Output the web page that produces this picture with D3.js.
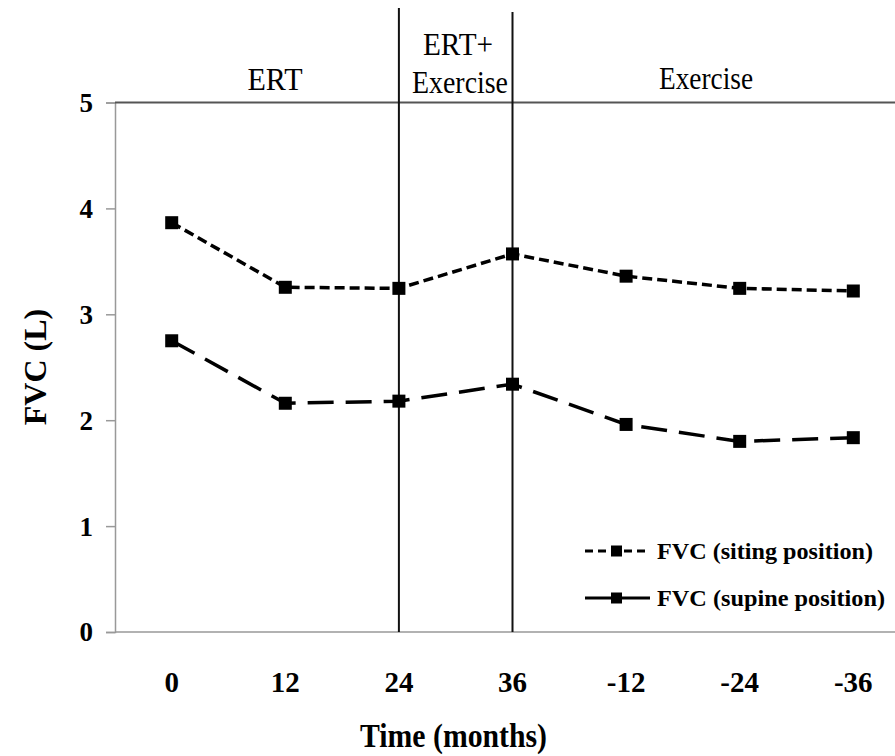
<!DOCTYPE html>
<html>
<head>
<meta charset="utf-8">
<script src="https://cdn.jsdelivr.net/npm/d3@7"></script>
<style>
  body { margin: 0; background: #fff; }
  svg text { font-family: 'Liberation Serif', 'Times New Roman', Times, 'DejaVu Serif', serif !important; }
</style>
</head>
<body>
<div id="chart"></div>
<script>
const categories = ['0', '12', '24', '36', '-12', '-24', '-36'];
const sitting = [3.865, 3.255, 3.245, 3.57, 3.36, 3.245, 3.22];
const supine = [2.75, 2.16, 2.18, 2.34, 1.96, 1.80, 1.835];
const yTicks = [0, 1, 2, 3, 4, 5];
const phaseLabels = [['ERT'], ['ERT+', 'Exercise'], ['Exercise']];
const dividers = ['24', '36'];

const W = 895, H = 756;

const svg = d3.select('#chart').append('svg')
  .attr('width', W)
  .attr('height', H);

const x = d3.scalePoint().domain(categories).range([171.7, 853.3]);
const y = d3.scaleLinear().domain([0, 5]).range([632, 102.5]);
const x0 = 115;

// y axis
const yAxis = svg.append('g')
  .attr('transform', `translate(${x0},0)`)
  .call(d3.axisLeft(y).tickValues(yTicks).tickFormat(d3.format('d')).tickSize(9).tickPadding(13));
yAxis.attr('font-family', null);
yAxis.select('.domain').attr('stroke', '#999').attr('stroke-width', 1.5);
yAxis.selectAll('.tick line').attr('stroke', '#999').attr('stroke-width', 1.5);
yAxis.selectAll('.tick text')
  .attr('font-size', 27).attr('font-weight', 'bold')
  .attr('dy', '0.33em');

// x axis line (gray) and top line (dark)
svg.append('line')
  .attr('x1', x0).attr('x2', W)
  .attr('y1', y(0)).attr('y2', y(0))
  .attr('stroke', '#999').attr('stroke-width', 1.5);
svg.append('line')
  .attr('x1', x0).attr('x2', W)
  .attr('y1', y(5)).attr('y2', y(5))
  .attr('stroke', '#555').attr('stroke-width', 2);

// x tick labels
svg.append('g').selectAll('text')
  .data(categories)
  .join('text')
  .attr('x', d => x(d))
  .attr('y', 692)
  .attr('text-anchor', 'middle')
  .attr('font-size', 29)
  .attr('font-weight', 'bold')
  .text(d => d);

// phase dividers
svg.append('g').selectAll('line')
  .data(dividers)
  .join('line')
  .attr('x1', d => x(d)).attr('x2', d => x(d))
  .attr('y1', (d, i) => i === 0 ? 8 : 12)
  .attr('y2', y(0))
  .attr('stroke', '#111').attr('stroke-width', 2);

// phase labels: [x, baseline, width] per line
const phasePos = [
  [[275, 90, 55]],
  [[458, 55, 70], [460, 93, 96]],
  [[706, 89, 94]]
];
phaseLabels.forEach((lines, i) => {
  lines.forEach((ln, j) => {
    const [px, py, pw] = phasePos[i][j];
    svg.append('text')
      .attr('x', px - pw / 2)
      .attr('y', py)
      .attr('font-size', 32)
      .attr('textLength', pw)
      .attr('lengthAdjust', 'spacingAndGlyphs')
      .text(ln);
  });
});

// series
const line = d3.line()
  .x((d, i) => x(categories[i]))
  .y(d => y(d));

const series = [
  { name: 'FVC (siting position)', values: sitting, dash: '10,5', legendDash: '8,5', textW: 216 },
  { name: 'FVC (supine position)', values: supine, dash: '26,12', legendDash: null, textW: 228 }
];

series.forEach(s => {
  svg.append('path')
    .datum(s.values)
    .attr('fill', 'none')
    .attr('stroke', '#000')
    .attr('stroke-width', 3.5)
    .attr('stroke-dasharray', s.dash)
    .attr('d', line);
  svg.append('g').selectAll('rect')
    .data(s.values)
    .join('rect')
    .attr('x', (d, i) => x(categories[i]) - 6.5)
    .attr('y', d => y(d) - 6.5)
    .attr('width', 13)
    .attr('height', 13)
    .attr('fill', '#000');
});

// legend
const legend = svg.append('g');
series.forEach((s, i) => {
  const ly = 551 + i * 47;
  legend.append('line')
    .attr('x1', 585).attr('x2', 650)
    .attr('y1', ly).attr('y2', ly)
    .attr('stroke', '#000').attr('stroke-width', 3)
    .attr('stroke-dasharray', s.legendDash);
  legend.append('rect')
    .attr('x', 611).attr('y', ly - 5.5)
    .attr('width', 11).attr('height', 11)
    .attr('fill', '#000');
  legend.append('text')
    .attr('x', 657).attr('y', ly + 8)
    .attr('font-size', 24)
    .attr('font-weight', 'bold')
    .attr('textLength', s.textW)
    .attr('lengthAdjust', 'spacingAndGlyphs')
    .text(s.name);
});

// axis titles
svg.append('text')
  .attr('x', 360).attr('y', 747)
  .attr('font-size', 33)
  .attr('font-weight', 'bold')
  .attr('textLength', 187)
  .attr('lengthAdjust', 'spacingAndGlyphs')
  .text('Time (months)');

svg.append('text')
  .attr('transform', 'translate(46,367) rotate(-90)')
  .attr('text-anchor', 'middle')
  .attr('font-size', 32)
  .attr('font-weight', 'bold')
  .text('FVC (L)');
</script>
</body>
</html>
